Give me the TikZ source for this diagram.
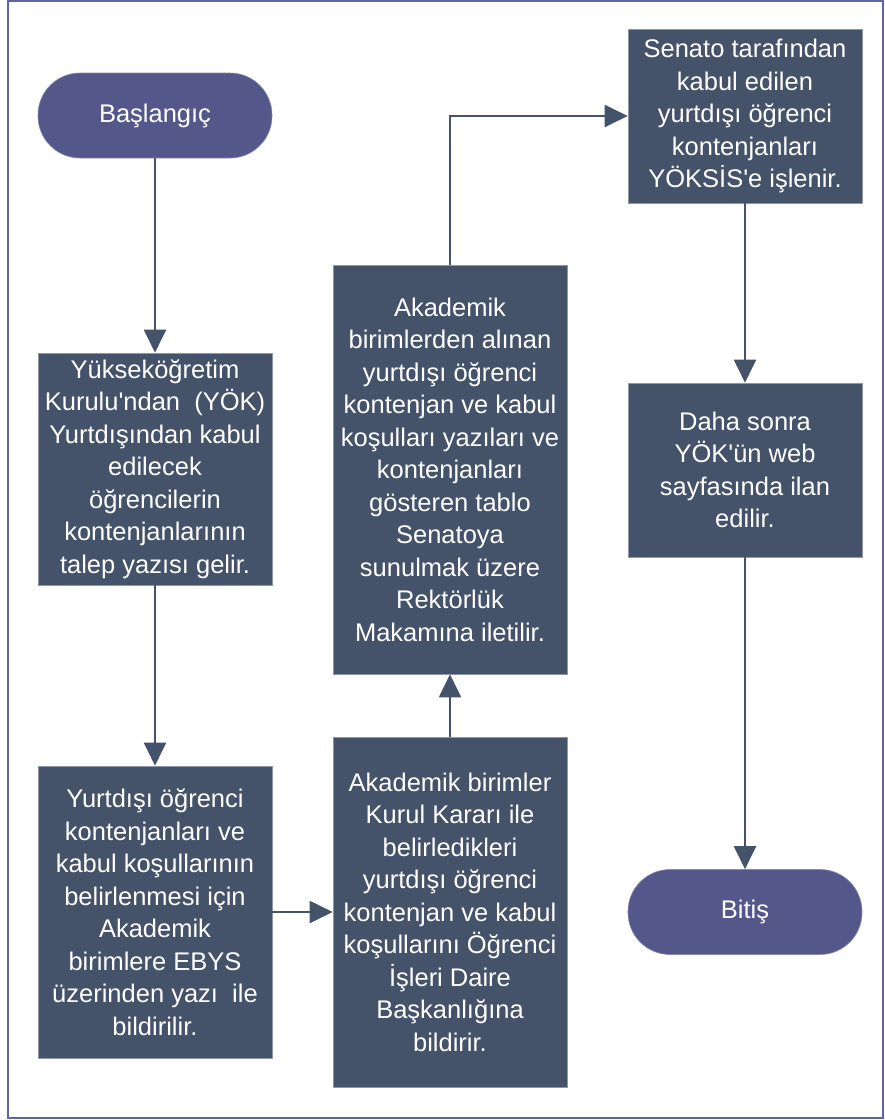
\documentclass[tikz,border=0pt]{standalone}
\usepackage{fontspec}
\setmainfont{Liberation Sans}
\usetikzlibrary{arrows.meta}
\definecolor{boxc}{RGB}{68,82,106}
\definecolor{pillc}{RGB}{83,87,138}
\definecolor{framec}{RGB}{96,100,160}
\newcommand\ap{\textquotesingle}
\begin{document}
\begin{tikzpicture}[x=1pt,y=-1pt,
  stepbox/.style={fill=boxc, draw=boxc!60!white, line width=0.6pt, text=white, align=center,
    minimum width=234pt, inner sep=0pt, font=\fontsize{25.5}{32.5}\selectfont},
  pill/.style={fill=pillc, draw=pillc!70!white, line width=0.6pt, rounded corners=42pt, text=white,
    minimum width=234pt, minimum height=85pt, font=\fontsize{25.5}{32.5}\selectfont},
  flow/.style={draw=boxc, line width=2pt, -{Triangle[length=23pt,width=22pt]}}]
\useasboundingbox (0,0) rectangle (885,1120);
\draw[framec, line width=2pt] (8,1) rectangle (883,1118);

\node[pill] (start) at (155,115.5) {Başlangıç};
\node[stepbox, minimum height=232pt] (b1) at (155,469) {Yükseköğretim\\Kurulu\ap ndan~ (YÖK)\\Yurtdışından kabul\\edilecek\\öğrencilerin\\kontenjanlarının\\talep yazısı gelir.};
\node[stepbox, minimum height=292pt] (b2) at (155,912) {Yurtdışı öğrenci\\kontenjanları ve\\kabul koşullarının\\belirlenmesi için\\Akademik\\birimlere EBYS\\üzerinden yazı~ ile\\bildirilir.};
\node[stepbox, minimum height=350pt] (b3) at (450,912) {Akademik birimler\\Kurul Kararı ile\\belirledikleri\\yurtdışı öğrenci\\kontenjan ve kabul\\koşullarını Öğrenci\\İşleri Daire\\Başkanlığına\\bildirir.};
\node[stepbox, minimum height=409pt] (b4) at (450,469.5) {Akademik\\birimlerden alınan\\yurtdışı öğrenci\\kontenjan ve kabul\\koşulları yazıları ve\\kontenjanları\\gösteren tablo\\Senatoya\\sunulmak üzere\\Rektörlük\\Makamına iletilir.};
\node[stepbox, minimum height=174pt] (b5) at (745,116) {Senato tarafından\\kabul edilen\\yurtdışı öğrenci\\kontenjanları\\YÖKSİS\ap e işlenir.};
\node[stepbox, minimum height=174pt] (b6) at (745,470) {Daha sonra\\YÖK\ap ün web\\sayfasında ilan\\edilir.};
\node[pill] (end) at (745,912) {Bitiş};

\draw[flow] (start) -- (b1);
\draw[flow] (b1) -- (b2);
\draw[flow] (b2) -- (b3);
\draw[flow] (b3) -- (b4);
\draw[flow] (b4.north) |- (b5.west);
\draw[flow] (b5) -- (b6);
\draw[flow] (b6) -- (end);
\end{tikzpicture}
\end{document}
